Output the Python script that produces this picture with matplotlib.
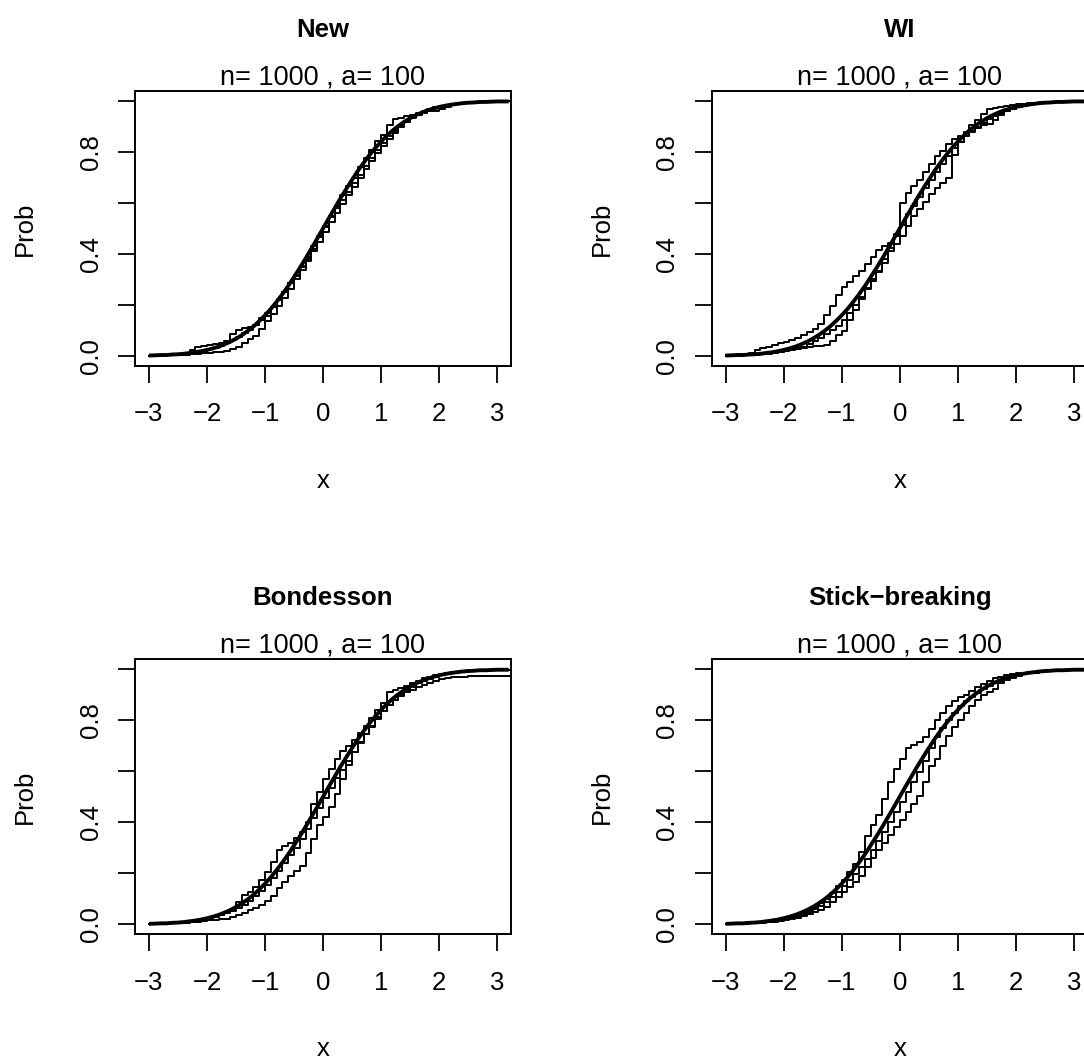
"""
2x2 panel of random CDF draws (step functions) against the N(0,1) CDF,
one panel per sampling scheme. Mimics R base graphics look.
"""

import matplotlib
matplotlib.use("Agg")
import matplotlib.pyplot as plt

# Figure size in pixels (dpi 100)
W, H = 1084, 1060

plt.rcParams['font.family'] = ['Liberation Sans', 'DejaVu Sans']

# common x grid the curves are read on
X_GRID = [-3.0, -2.9, -2.8, -2.7, -2.6, -2.5, -2.4, -2.3, -2.2, -2.1,
          -2.0, -1.9, -1.8, -1.7, -1.6, -1.5, -1.4, -1.3, -1.2, -1.1,
          -1.0, -0.9, -0.8, -0.7, -0.6, -0.5, -0.4, -0.3, -0.2, -0.1,
          0.0, 0.1, 0.2, 0.3, 0.4, 0.5, 0.6, 0.7, 0.8, 0.9,
          1.0, 1.1, 1.2, 1.3, 1.4, 1.5, 1.6, 1.7, 1.8, 1.9,
          2.0, 2.1, 2.2, 2.3, 2.4, 2.5, 2.6, 2.7, 2.8, 2.9,
          3.0, 3.1, 3.2]

# thick reference curve
BASE_CDF = [.001, .002, .003, .003, .005, .006, .008, .011, .014, .018,
            .023, .029, .036, .045, .055, .067, .081, .097, .115, .136,
            .159, .184, .212, .242, .274, .309, .345, .382, .421, .460,
            .500, .540, .579, .618, .655, .691, .726, .758, .788, .816,
            .841, .864, .885, .903, .919, .933, .945, .955, .964, .971,
            .977, .982, .986, .989, .992, .994, .995, .997, .997, .998,
            .999, .999, .999]

# --- New ---
NEW_1 = [.000, .002, .003, .004, .006, .008, .012, .022, .035, .040,
         .044, .048, .052, .058, .085, .100, .108, .112, .120, .140,
         .158, .190, .222, .250, .286, .318, .352, .380, .420, .465,
         .505, .548, .590, .630, .668, .700, .740, .775, .810, .842,
         .868, .905, .930, .935, .940, .946, .954, .962, .970, .976,
         .980, .984, .988, .990, .992, .994, .995, .996, .997, .998,
         .998, .999, .999]
NEW_2 = [.000, .000, .001, .002, .003, .004, .005, .006, .008, .010,
         .012, .014, .016, .020, .026, .035, .050, .066, .078, .104,
         .135, .165, .195, .228, .262, .300, .338, .372, .410, .448,
         .488, .525, .560, .596, .630, .662, .700, .735, .765, .795,
         .825, .852, .876, .900, .918, .934, .946, .955, .960, .962,
         .968, .978, .984, .988, .991, .993, .995, .996, .997, .998,
         .998, .999, .999]
NEW_3 = [.001, .001, .002, .003, .004, .006, .009, .013, .016, .020,
         .026, .032, .040, .050, .062, .075, .090, .102, .120, .148,
         .170, .192, .218, .250, .285, .315, .350, .390, .432, .470,
         .508, .545, .580, .612, .645, .680, .712, .745, .778, .808,
         .835, .862, .884, .904, .922, .936, .948, .958, .966, .973,
         .979, .984, .988, .991, .993, .995, .996, .997, .998, .998,
         .999, .999, .999]

# --- WI ---
WI_1 = [.002, .004, .006, .008, .012, .024, .030, .036, .042, .050,
        .056, .062, .070, .082, .092, .105, .125, .160, .195, .240,
        .270, .290, .315, .335, .360, .390, .415, .430, .445, .480,
        .600, .640, .665, .690, .720, .755, .785, .805, .830, .850,
        .865, .880, .905, .925, .950, .968, .975, .978, .982, .985,
        .988, .990, .992, .994, .995, .996, .997, .998, .998, .999,
        .999, .999, .999]
WI_2 = [.000, .001, .002, .003, .004, .005, .007, .009, .012, .015,
        .018, .022, .026, .030, .034, .038, .040, .044, .060, .080,
        .098, .140, .180, .225, .265, .300, .330, .365, .410, .440,
        .470, .510, .550, .575, .605, .635, .660, .680, .700, .790,
        .840, .865, .880, .895, .905, .912, .925, .945, .960, .970,
        .976, .982, .986, .989, .992, .994, .995, .996, .997, .998,
        .998, .999, .999]
WI_3 = [.001, .002, .003, .004, .005, .006, .008, .010, .013, .016,
        .020, .025, .030, .036, .045, .058, .070, .085, .100, .118,
        .140, .170, .200, .232, .262, .295, .335, .380, .425, .470,
        .515, .555, .590, .625, .660, .690, .720, .752, .785, .815,
        .840, .862, .882, .900, .915, .930, .942, .952, .962, .970,
        .976, .981, .985, .989, .992, .994, .995, .997, .997, .998,
        .999, .999, .999]

# --- Bondesson ---
BON_1 = [.001, .002, .003, .004, .005, .007, .009, .012, .016, .020,
         .025, .030, .036, .046, .060, .085, .115, .125, .145, .175,
         .205, .245, .290, .305, .320, .340, .360, .400, .470, .520,
         .570, .610, .650, .680, .700, .725, .750, .780, .810, .840,
         .870, .910, .918, .926, .935, .945, .955, .965, .972, .978,
         .982, .986, .989, .991, .993, .994, .995, .996, .997, .998,
         .998, .999, .999]
BON_2 = [.000, .001, .002, .003, .004, .005, .006, .008, .010, .012,
         .015, .018, .020, .022, .026, .035, .045, .055, .065, .075,
         .090, .110, .140, .165, .190, .210, .230, .280, .335, .390,
         .420, .460, .510, .570, .625, .675, .715, .745, .775, .805,
         .835, .860, .880, .895, .910, .920, .930, .940, .946, .955,
         .962, .966, .969, .971, .972, .973, .974, .974, .975, .975,
         .975, .975, .975]
BON_3 = [.001, .001, .002, .003, .004, .006, .008, .011, .015, .019,
         .024, .028, .034, .042, .052, .062, .076, .092, .112, .132,
         .155, .180, .208, .240, .270, .300, .335, .372, .415, .455,
         .495, .535, .572, .605, .640, .675, .712, .748, .778, .812,
         .838, .860, .882, .902, .918, .932, .945, .955, .964, .971,
         .977, .982, .986, .989, .992, .994, .995, .997, .997, .998,
         .999, .999, .999]

# --- Stick-breaking ---
STK_1 = [.001, .001, .002, .003, .004, .005, .007, .010, .013, .017,
         .022, .028, .035, .045, .055, .068, .082, .100, .122, .148,
         .175, .205, .235, .285, .345, .390, .430, .490, .560, .610,
         .650, .690, .705, .715, .735, .765, .800, .830, .855, .875,
         .890, .900, .915, .930, .942, .955, .965, .972, .978, .982,
         .985, .988, .990, .992, .993, .995, .996, .997, .997, .998,
         .998, .999, .999]
STK_2 = [.000, .001, .001, .002, .003, .004, .005, .007, .009, .012,
         .015, .020, .025, .030, .038, .046, .056, .068, .085, .105,
         .125, .145, .165, .190, .225, .260, .290, .320, .350, .380,
         .410, .440, .470, .505, .560, .620, .650, .700, .740, .775,
         .800, .830, .855, .880, .900, .912, .925, .945, .958, .968,
         .976, .981, .985, .988, .991, .993, .995, .996, .997, .998,
         .998, .999, .999]
STK_3 = [.001, .001, .002, .003, .004, .005, .007, .009, .012, .015,
         .019, .024, .030, .038, .047, .058, .072, .088, .105, .125,
         .148, .172, .198, .225, .255, .290, .325, .362, .400, .440,
         .480, .520, .560, .598, .640, .690, .735, .770, .800, .830,
         .855, .875, .892, .908, .922, .935, .946, .956, .965, .972,
         .978, .983, .987, .990, .992, .994, .995, .997, .997, .998,
         .999, .999, .999]

TITLES = ['New', 'WI', 'Bondesson', 'Stick\u2212breaking']
SUBTITLE = 'n= 1000 , a= 100'
PANEL_DRAWS = [[NEW_1, NEW_2, NEW_3],
               [WI_1, WI_2, WI_3],
               [BON_1, BON_2, BON_3],
               [STK_1, STK_2, STK_3]]

X_TICKS = [-3, -2, -1, 0, 1, 2, 3]
Y_TICKS = [0.0, 0.2, 0.4, 0.6, 0.8, 1.0]
Y_TICKLABELS = ['0.0', '', '0.4', '', '0.8', '']

# box positions in pixels: (left, top)
BOX_W, BOX_H = 376, 275
BOX_POS = [(135, 91), (711.7, 91), (135, 659.3), (711.7, 659.3)]

FS = 18.5
PX = 1.0 / W
PY = 1.0 / H


def draw_panel(fig, left, top, title, draws):
    ax = fig.add_axes([left * PX, 1 - (top + BOX_H) * PY, BOX_W * PX, BOX_H * PY])
    for ys in draws:
        ax.plot(X_GRID, ys, drawstyle='steps-post', color='black', lw=1.4)
    ax.plot(X_GRID, BASE_CDF, color='black', lw=2.8, solid_capstyle='butt')

    ax.set_xlim(-3.24, 3.24)
    ax.set_ylim(-0.04, 1.04)
    ax.set_xticks(X_TICKS)
    ax.set_xticklabels([str(t).replace('-', '\u2212') for t in X_TICKS])
    ax.set_yticks(Y_TICKS)
    ax.set_yticklabels(Y_TICKLABELS, rotation=90, va='center')
    ax.tick_params(direction='out', length=12.2, width=1.3, labelsize=FS,
                   color='black')
    ax.tick_params(axis='x', pad=14)
    ax.tick_params(axis='y', pad=11)
    for s in ax.spines.values():
        s.set_linewidth(1.4)
        s.set_color('black')

    cx = left + BOX_W / 2
    cy = top + BOX_H / 2
    fig.text(cx * PX, 1 - (top - 54.3) * PY, title, ha='center', va='baseline',
             fontsize=FS, fontweight='bold')
    fig.text(cx * PX, 1 - (top - 6.3) * PY, SUBTITLE, ha='center', va='baseline',
             fontsize=19.5)
    fig.text(cx * PX, 1 - (top + 397) * PY, 'x', ha='center', va='baseline',
             fontsize=FS)
    fig.text((left - 103.3) * PX, 1 - cy * PY, 'Prob', ha='center', va='baseline',
             rotation=90, rotation_mode='anchor', fontsize=FS)
    return ax


fig = plt.figure(figsize=(W / 100, H / 100), dpi=100)
for (left, top), title, draws in zip(BOX_POS, TITLES, PANEL_DRAWS):
    draw_panel(fig, left, top, title, draws)

fig.savefig('out.png', dpi=100, facecolor='white')
